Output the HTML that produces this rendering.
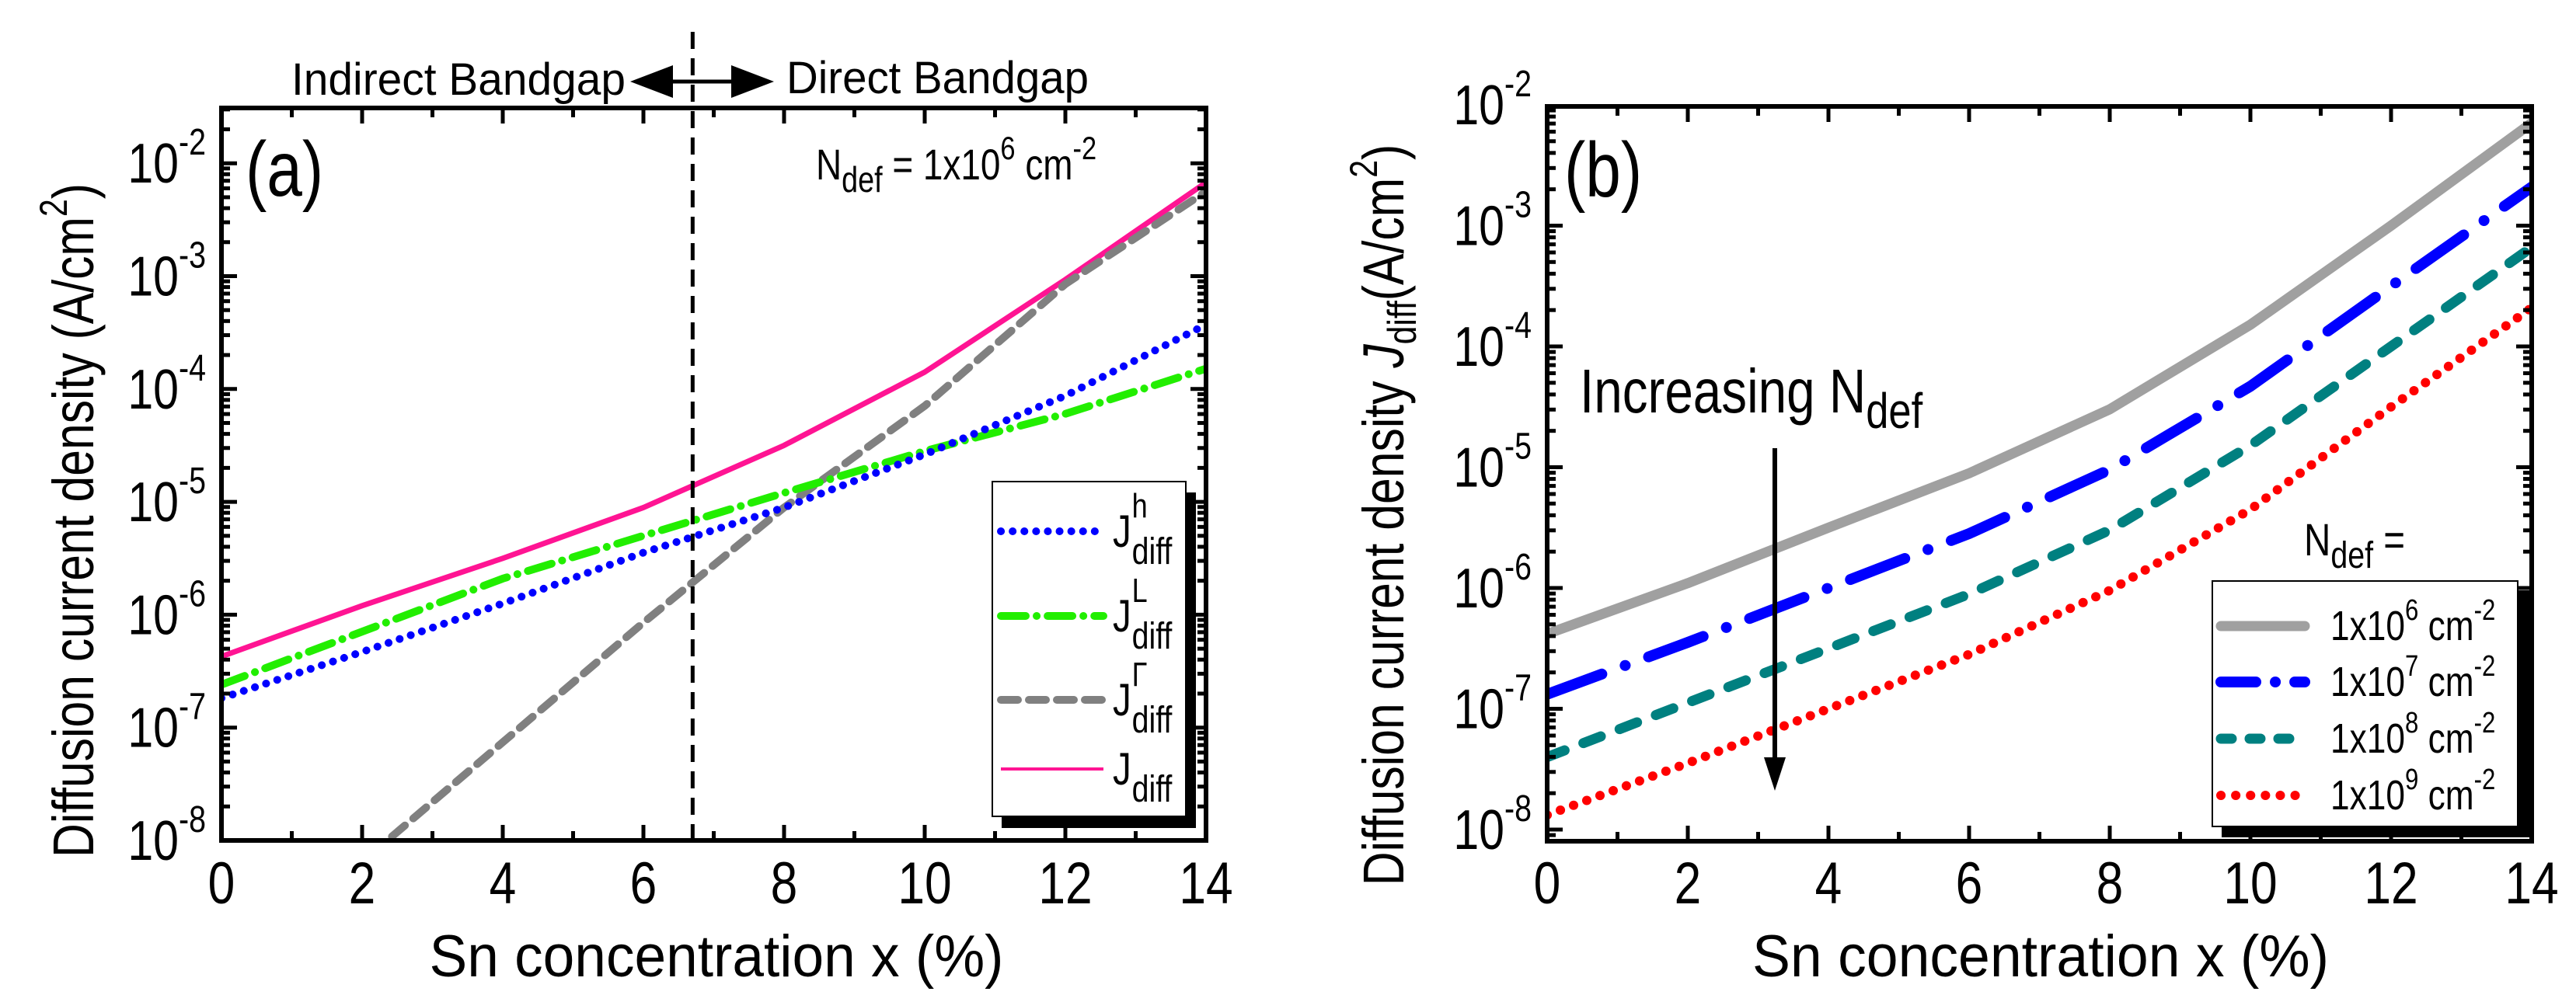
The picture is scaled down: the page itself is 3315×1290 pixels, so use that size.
<!DOCTYPE html>
<html><head><meta charset="utf-8"><style>
html,body{margin:0;padding:0;background:#fff}
svg{display:block}
text{font-family:"Liberation Sans Narrow","Liberation Sans",sans-serif;fill:#000}
</style></head><body>
<svg id="fig" width="3315" height="1290" viewBox="0 0 3315 1290" xmlns="http://www.w3.org/2000/svg">
<defs>
<clipPath id="clipA"><rect x="285" y="139" width="1267" height="943"/></clipPath>
<clipPath id="clipB"><rect x="1991" y="137" width="1267" height="946"/></clipPath>
</defs>
<g id="panelA"></g>
<g id="panelB"></g>
</svg>
<script>
// ---- Data (log10 of current density, A/cm^2) ----
const xTicks = [0,2,4,6,8,10,12,14];
const yDecades = [-8,-7,-6,-5,-4,-3,-2];
// Panel (a)
const xA = [0,2,4,6,8,10,12,14];
const aJh = [-6.74,-6.33,-5.9,-5.45,-5.05,-4.58,-4.06,-3.43];
const aJL = [-6.62,-6.15,-5.68,-5.3,-4.92,-4.55,-4.22,-3.82];
const xGamma = [0,2,4,6,8,10,12,14];
const aJG = [-9.25,-8.19,-7.13,-6.07,-5.05,-4.15,-3.07,-2.25];
const aJdiff = [-6.37,-5.92,-5.5,-5.05,-4.5,-3.85,-3.03,-2.17];
const transitionX = 6.7;
// Panel (b)
const xB = [0,2,4,6,8,10,12,14];
const b1e6 = [-6.38,-5.96,-5.5,-5.05,-4.52,-3.82,-3.0,-2.15];
const b1e7 = [-6.88,-6.45,-6.0,-5.55,-5.02,-4.33,-3.5,-2.68];
const b1e8 = [-7.4,-6.95,-6.5,-6.05,-5.52,-4.82,-4.0,-3.18];
const b1e9 = [-7.88,-7.45,-7.0,-6.55,-6.02,-5.35,-4.5,-3.68];
const legendB = ["6","7","8","9"];

const NS="http://www.w3.org/2000/svg";
const SX=0.82;
function mk(tag, attrs, parent){const e=document.createElementNS(NS,tag);for(const k in attrs)e.setAttribute(k,attrs[k]);parent.appendChild(e);return e;}
function txt(parent,x,y,size,anchor,extra){
  const a={x:0,y:0,'font-size':size,'text-anchor':anchor||'start',transform:'translate('+x+','+y+')'+(extra||'')+' scale('+SX+',1)'};
  return mk('text',a,parent);
}

const A={L:285,R:1552,T:139,B:1082, x:v=>285+v*90.5, y:l=>1082-(l+8)*145.3, lmin:-8, lmax:-1.51};
const Bp={L:1991,R:3258,T:137,B:1083, x:v=>1991+v*90.5, y:l=>1068-(l+8)*155.5, lmin:-8.1, lmax:-2.01};

function axes(P, g, name){
  const fr=mk('rect',{x:P.L,y:P.T,width:P.R-P.L,height:P.B-P.T,fill:'none',stroke:'#000','stroke-width':6},g);
  
  
  for(let v=0;v<=14;v++){
    const x=P.x(v), len=(v%2===0)?20:12;
    mk('line',{x1:x,y1:P.B,x2:x,y2:P.B-len,stroke:'#000','stroke-width':5},g);
    mk('line',{x1:x,y1:P.T,x2:x,y2:P.T+len,stroke:'#000','stroke-width':5},g);
  }
  xTicks.forEach(v=>{
    const t=txt(g,P.x(v),1163,76,'middle');
    t.textContent=String(v);
    
    
  });
  for(let d=-9;d<=-1;d++){
    for(let m=1;m<10;m++){
      const l=d+Math.log10(m);
      if(l<P.lmin-0.001||l>P.lmax+0.001) continue;
      const y=P.y(l), len=(m===1)?20:11;
      mk('line',{x1:P.L,y1:y,x2:P.L+len,y2:y,stroke:'#000','stroke-width':5},g);
      mk('line',{x1:P.R,y1:y,x2:P.R-len,y2:y,stroke:'#000','stroke-width':5},g);
    }
  }
  yDecades.forEach(d=>{
    const y=P.y(d);
    const t=txt(g,P.L-20,y+25,72,'end');
    
    
    const a=mk('tspan',{},t); a.textContent='10';
    const s=mk('tspan',{'font-size':48,dy:-36},t); s.textContent=String(d);
  });
}
function series(P,g,xs,ys,attrs,name,clip){
  const pts=xs.map((v,i)=>P.x(v).toFixed(1)+','+P.y(ys[i]).toFixed(1)).join(' ');
  const a=Object.assign({points:pts,fill:'none','stroke-linecap':'round','stroke-linejoin':'round','clip-path':'url(#'+clip+')'},attrs);
  const e=mk('polyline',a,g);
  
  
}

// ---------- Panel A ----------
const gA=document.getElementById('panelA');
series(A,gA,xA,aJdiff,{stroke:'#ff1493','stroke-width':7},'series-jdiff','clipA');
series(A,gA,xGamma,aJG,{stroke:'#808080','stroke-width':10,'stroke-dasharray':'22 14'},'series-jgamma','clipA');
series(A,gA,xA,aJL,{stroke:'#22ee00','stroke-width':10,'stroke-dasharray':'32 14 0.1 14'},'series-jl','clipA');
series(A,gA,xA,aJh,{stroke:'#0000ff','stroke-width':10,'stroke-dasharray':'0.1 15'},'series-jh','clipA');
axes(A,gA,'panel-a');
const tl=mk('line',{x1:A.x(transitionX),y1:41,x2:A.x(transitionX),y2:A.B,stroke:'#000','stroke-width':5,'stroke-dasharray':'22 12'},gA);


const ar=mk('g',{},gA);


mk('line',{x1:860,y1:105,x2:950,y2:105,stroke:'#000','stroke-width':5},ar);
mk('polygon',{points:'811,105 866,84 866,126',fill:'#000'},ar);
mk('polygon',{points:'996,105 941,84 941,126',fill:'#000'},ar);
let t=mk('text',{x:375,y:122,'font-size':58,textLength:430,lengthAdjust:'spacingAndGlyphs'},gA);t.textContent='Indirect Bandgap';


t=mk('text',{x:1012,y:120,'font-size':58,textLength:389,lengthAdjust:'spacingAndGlyphs'},gA);t.textContent='Direct Bandgap';


t=txt(gA,316,252,100);t.textContent='(a)';


t=txt(gA,1050,231,56);


t.innerHTML='<tspan>N</tspan><tspan font-size="46" dy="16">def</tspan><tspan dy="-16"> = 1x10</tspan><tspan font-size="42" dy="-26">6</tspan><tspan dy="26"> cm</tspan><tspan font-size="42" dy="-26">-2</tspan>';
t=txt(gA,120,670,74,'middle',' rotate(-90)');


t.innerHTML='Diffusion current density (A/cm<tspan font-size="50" dy="-34">2</tspan><tspan dy="34">)</tspan>';
t=mk('text',{x:922,y:1257,'font-size':76,'text-anchor':'middle',textLength:739,lengthAdjust:'spacingAndGlyphs'},gA);t.textContent='Sn concentration x (%)';


const lgA=mk('g',{},gA);


mk('rect',{x:1289,y:634,width:250,height:432,fill:'#000'},lgA);
mk('rect',{x:1277,y:620,width:249,height:431,fill:'#fff',stroke:'#000','stroke-width':2},lgA);
const legA=[
 {y:684,sup:'h',st:{stroke:'#0000ff','stroke-width':10,'stroke-dasharray':'0.1 15','stroke-linecap':'round'}},
 {y:793,sup:'L',st:{stroke:'#22ee00','stroke-width':10,'stroke-dasharray':'32 14 0.1 14','stroke-linecap':'round'}},
 {y:901,sup:'Γ',st:{stroke:'#808080','stroke-width':10,'stroke-dasharray':'22 14','stroke-linecap':'round'}},
 {y:990,sup:'',st:{stroke:'#ff1493','stroke-width':4}}];
legA.forEach(r=>{
  const e=mk('g',{},lgA);
  
  
  mk('line',Object.assign({x1:1288,y1:r.y,x2:1420,y2:r.y},r.st),e);
  const tx=txt(e,1432,r.y+20,58);
  tx.innerHTML='J'+(r.sup?'<tspan font-size="44" dy="-38" x="30">'+r.sup+'</tspan>':'')+'<tspan font-size="48" x="30" dy="'+(r.sup?60:22)+'">diff</tspan>';
});

// ---------- Panel B ----------
const gB=document.getElementById('panelB');
series(Bp,gB,xB,b1e6,{stroke:'#a0a0a0','stroke-width':13},'series-1e6','clipB');
series(Bp,gB,xB,b1e7,{stroke:'#0000ff','stroke-width':14,'stroke-dasharray':'75 32 0.1 32'},'series-1e7','clipB');
series(Bp,gB,xB,b1e8,{stroke:'#008080','stroke-width':13,'stroke-dasharray':'24 26'},'series-1e8','clipB');
series(Bp,gB,xB,b1e9,{stroke:'#ff0000','stroke-width':12,'stroke-dasharray':'0.1 18'},'series-1e9','clipB');
axes(Bp,gB,'panel-b');
t=txt(gB,2013,253,100);t.textContent='(b)';


t=txt(gB,2033,531,80);


t.innerHTML='Increasing N<tspan font-size="64" dy="20">def</tspan>';
const arB=mk('g',{},gB);


mk('line',{x1:2284,y1:577,x2:2284,y2:985,stroke:'#000','stroke-width':6},arB);
mk('polygon',{points:'2284,1018 2270,975 2298,975',fill:'#000'},arB);
t=txt(gB,1806,663,74,'middle',' rotate(-90)');


t.innerHTML='Diffusion current density <tspan font-style="italic">J</tspan><tspan font-size="52" dy="16">diff</tspan><tspan dy="-16">(A/cm</tspan><tspan font-size="50" dy="-34">2</tspan><tspan dy="34">)</tspan>';
t=mk('text',{x:2626,y:1257,'font-size':76,'text-anchor':'middle',textLength:742,lengthAdjust:'spacingAndGlyphs'},gB);t.textContent='Sn concentration x (%)';


t=txt(gB,2965,715,58);


t.innerHTML='N<tspan font-size="48" dy="16">def</tspan><tspan dy="-16"> =</tspan>';
const lgB=mk('g',{},gB);


mk('rect',{x:2859,y:760,width:398,height:318,fill:'#000'},lgB);
mk('rect',{x:2847,y:748,width:393,height:316,fill:'#fff',stroke:'#000','stroke-width':2},lgB);
const legBst=[
 {stroke:'#a0a0a0','stroke-width':13,'stroke-linecap':'round'},
 {stroke:'#0000ff','stroke-width':14,'stroke-dasharray':'45 25 0.1 25','stroke-linecap':'round'},
 {stroke:'#008080','stroke-width':13,'stroke-dasharray':'14 23','stroke-linecap':'round'},
 {stroke:'#ff0000','stroke-width':12,'stroke-dasharray':'0.1 19','stroke-linecap':'round'}];
const legBy=[806,878,951,1024];
legendB.forEach((p,i)=>{
  const e=mk('g',{},lgB);
  
  
  mk('line',Object.assign({x1:2858,y1:legBy[i],x2:2966,y2:legBy[i]},legBst[i]),e);
  const tx=txt(e,2999,legBy[i]+18,54);
  tx.innerHTML='1x10<tspan font-size="38" dy="-26">'+p+'</tspan><tspan dy="26"> cm</tspan><tspan font-size="38" dy="-26">-2</tspan>';
});
</script>
</body></html>
